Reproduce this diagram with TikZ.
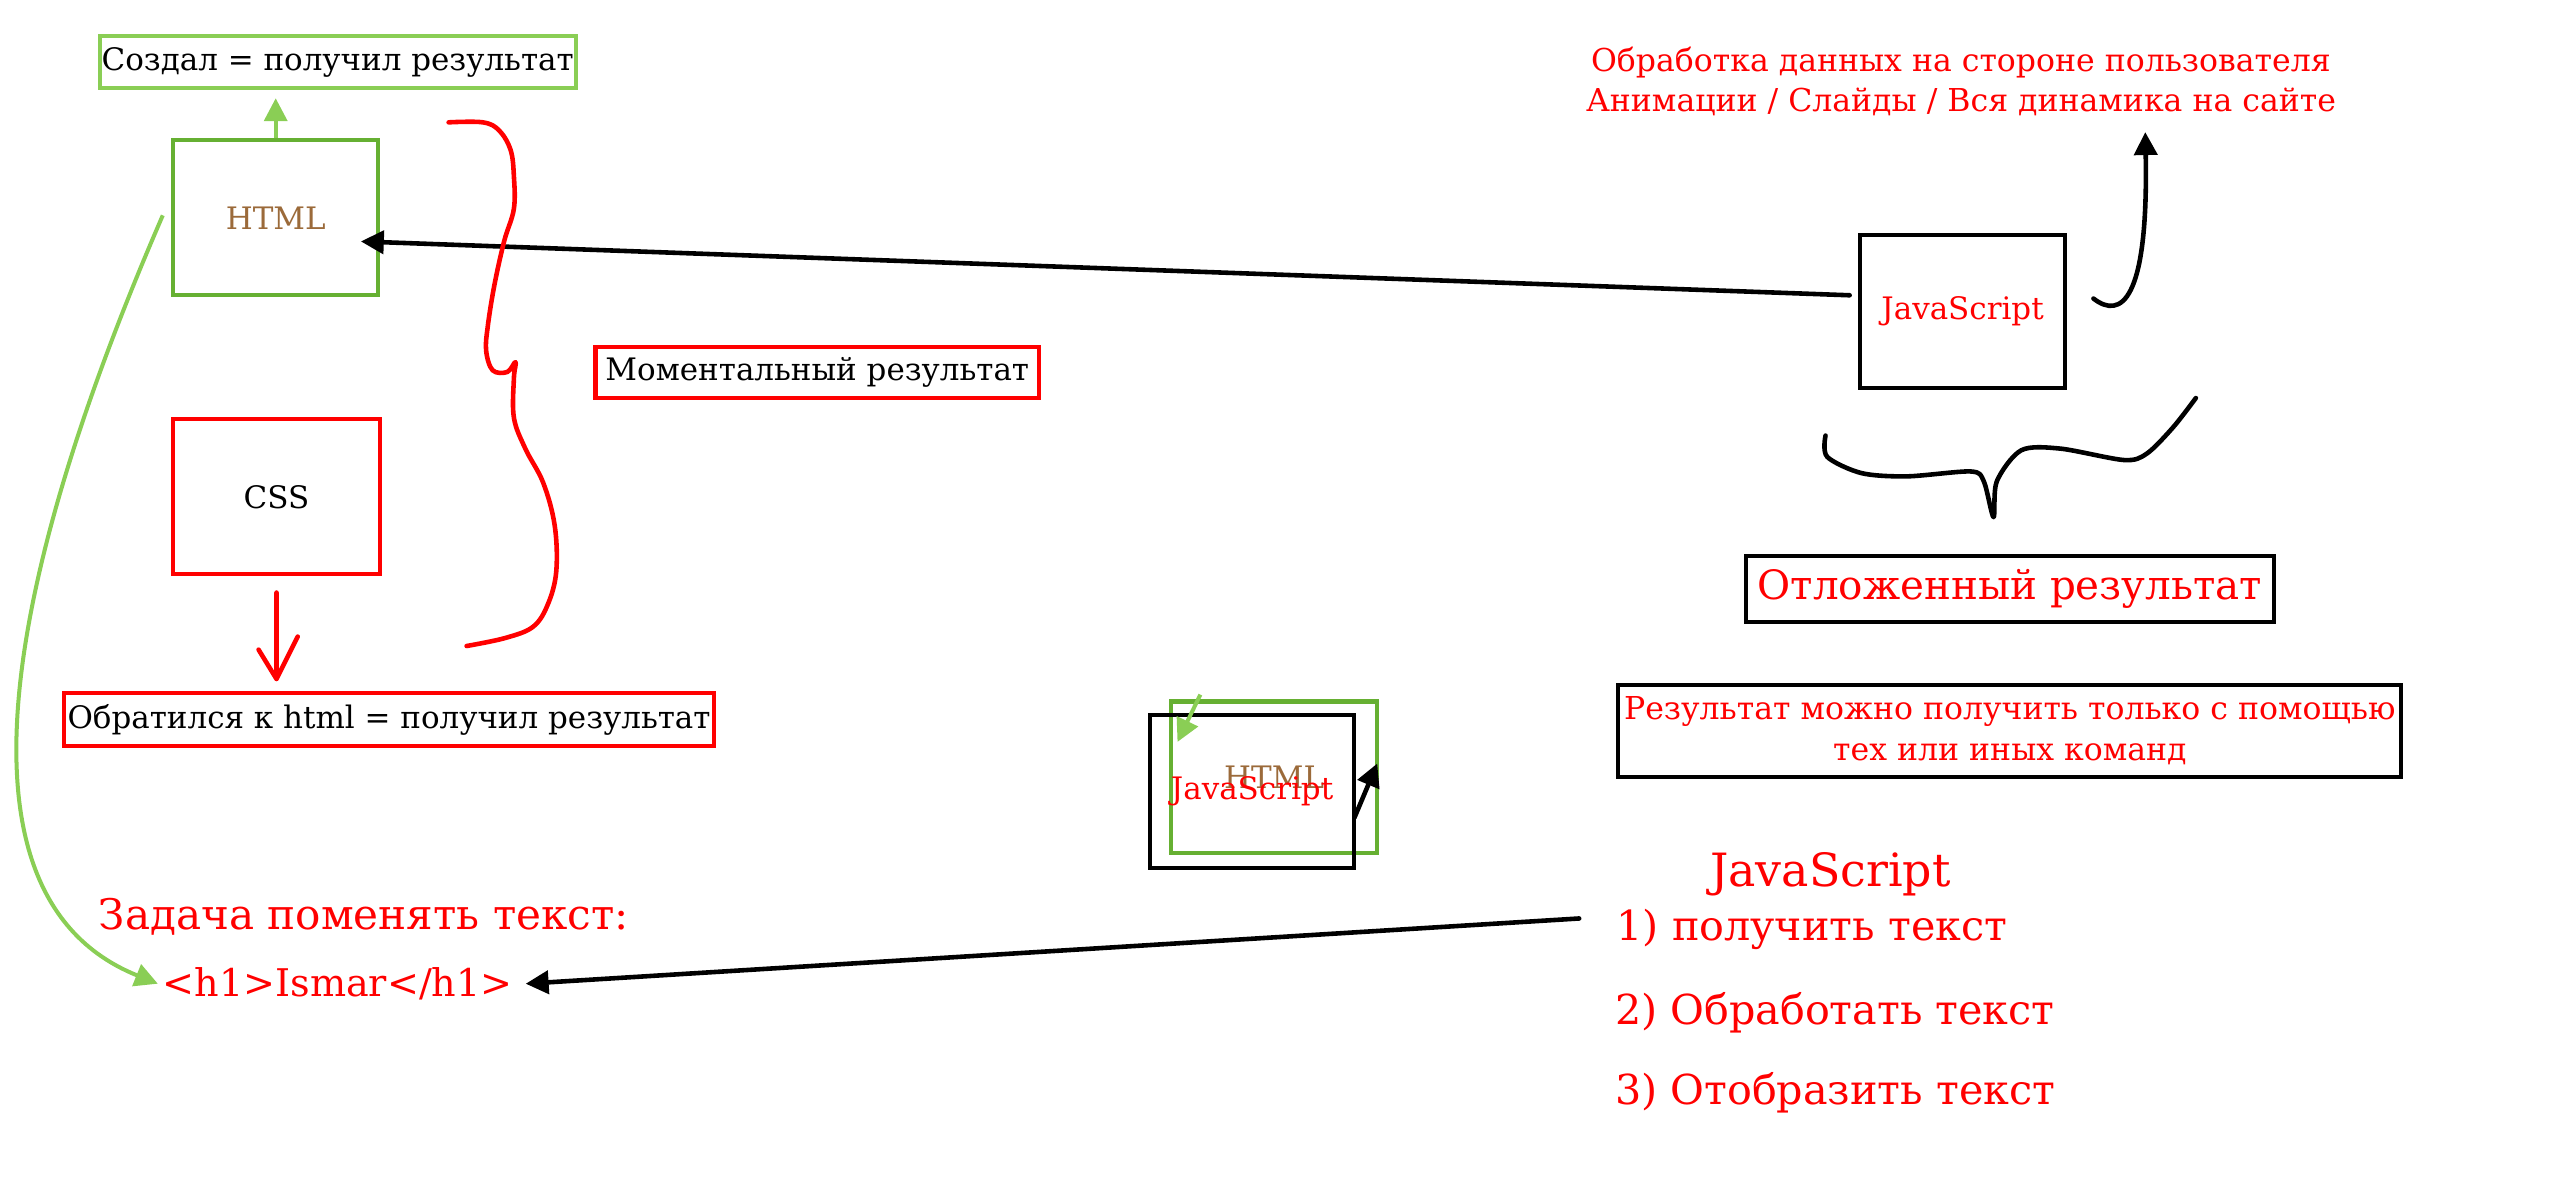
\documentclass[tikz,border=0pt]{standalone}
\usepackage{fontspec}
\setmainfont{DejaVu Serif}
\usetikzlibrary{arrows.meta}
\definecolor{lime}{RGB}{138,206,85}
\definecolor{leaf}{RGB}{102,176,50}
\definecolor{tan}{RGB}{155,106,58}
\begin{document}
\begin{tikzpicture}[x=0.02cm,y=-0.02cm,line width=1.4pt,
font=\fontsize{10.8}{13.7}\selectfont,
label box/.style={draw,inner sep=0pt,minimum height=0.64cm},
big box/.style={draw,minimum width=2.52cm,minimum height=1.9cm},
big text/.style={inner sep=1pt,text=red,font=\fontsize{14.4}{17}\selectfont},
tip/.style={-{Triangle[length=8pt,width=8pt]}},
pen/.style={line width=1.6pt,line cap=round,line join=round}]

\useasboundingbox (0,0) rectangle (1568,722);

\node[label box,draw=lime,minimum width=5.84cm] (create) at (207,38) {Создал = получил результат};
\node[big box,draw=leaf,text=tan] (html) at (169,133.5) {HTML};
\node[label box,draw=red,minimum width=5.44cm,minimum height=0.62cm] (moment) at (501,228.5) {Моментальный результат};
\node[big box,draw=red,minimum width=2.54cm] (css) at (169.5,304.5) {CSS};
\node[label box,draw=red,minimum width=7.98cm] (access) at (238.5,441) {Обратился к html = получил результат};
\node[big text,font=\fontsize{14.7}{17}\selectfont] (task) at (223,562) {Задача поменять текст:};
\node[big text,font=\fontsize{13.3}{16}\selectfont] (h1) at (207,603) {<h1>Ismar</h1>};

\node[big box,minimum height=1.88cm,text=red] (js) at (1203,191) {JavaScript};
\node[text=red,align=center,font=\fontsize{11}{13.7}\selectfont] (user) at (1202,50) {Обработка данных на стороне пользователя\\Анимации / Слайды / Вся динамика на сайте};
\node[label box,minimum width=6.48cm,minimum height=0.8cm,text=red,font=\fontsize{14.1}{16}\selectfont] (delayed) at (1232,361) {Отложенный результат};
\node[label box,minimum width=9.6cm,minimum height=1.12cm,text=red,align=center,font=\fontsize{11}{14.2}\selectfont] (commands) at (1232,448) {Результат можно получить только с помощью\\тех или иных команд};
\node[big text,font=\fontsize{16}{19}\selectfont] (jsb) at (1122,536) {JavaScript};
\node[big text,anchor=west] (step1) at (988,570) {1) получить текст};
\node[big text,anchor=west] (step2) at (987,621) {2) Обработать текст};
\node[big text,anchor=west] (step3) at (987,670) {3) Отобразить текст};

\node[big box,draw=leaf,minimum height=1.86cm,text=tan] (smallhtml) at (781,476.5) {HTML};
\node[big box,minimum width=2.5cm,minimum height=1.88cm,text=red] (smalljs) at (767.5,485) {JavaScript};

\draw[lime,tip,shorten >=0.1cm] (html.north) -- (html.north |- create.south);
\draw[pen,tip] ([xshift=-0.1cm,yshift=0.2cm]js.west) -- ([xshift=-0.24cm,yshift=-0.29cm]html.east);
\draw[lime,tip] ([xshift=-0.1cm,yshift=0.03cm]html.west) .. controls (40,270) and (-60,540) .. (h1.west);
\draw[pen,tip] ([xshift=-0.4cm,yshift=0.14cm]step1.west) -- ([xshift=0.1cm]h1.east);
\coordinate (up) at (1315,81);
\draw[pen,tip] ([xshift=0.32cm,yshift=0.16cm]js.east) .. controls (1300,196) and (1317,185) .. (up);
\draw[lime,tip] ([xshift=0.38cm,yshift=0.06cm]smallhtml.north west) -- ([xshift=0.36cm,yshift=-0.36cm]smalljs.north west);
\draw[pen,tip] ([xshift=-0.02cm,yshift=0.64cm]smalljs.south east) -- ([xshift=-0.02cm,yshift=0.17cm]smallhtml.east);

\draw[pen,red] ([yshift=-0.2cm]css.south) -- ++(0,53) coordinate (v) ++(-11,-18) -- (v) -- ++(13,-26);
\draw[pen,red] plot[smooth,tension=0.6] coordinates {(275,75) (296,75) (306,80) (313,92) (315,108) (315,128) (309,148) (303,175) (299,200) (298,215) (302,227) (311,228) (316,222) (315,232) (315,256) (322,275) (333,296) (340,322) (341,350) (336,370) (327,384) (310,391) (286,396)};
\draw[pen] plot[smooth,tension=0.5] coordinates {(1119,267) (1120,280) (1141,290) (1169,292) (1208,289) (1216,295) (1222,317) (1224,295) (1239,276) (1263,275) (1302,282) (1316,278) (1332,262) (1346,244)};
\end{tikzpicture}
\end{document}
